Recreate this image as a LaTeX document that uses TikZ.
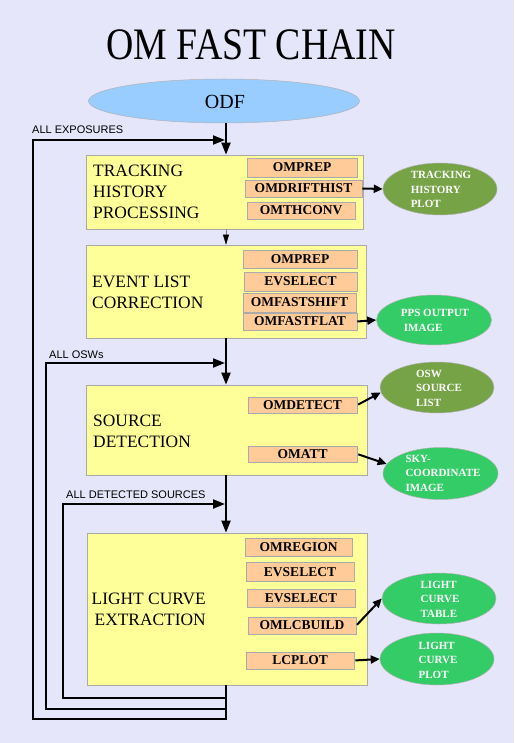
\documentclass[tikz,border=0pt]{standalone}
\usepackage{fontspec}
\usepackage{graphicx}
\setmainfont{Liberation Serif}
\newfontfamily\labelfont{Liberation Sans}
\usetikzlibrary{arrows.meta,shapes.geometric}
\definecolor{bgc}{HTML}{E6E6FA}
\definecolor{boxy}{HTML}{FFFF99}
\definecolor{boxo}{HTML}{FFCC99}
\definecolor{odfc}{HTML}{99CCFF}
\definecolor{prodolive}{HTML}{77A347}
\definecolor{prodgreen}{HTML}{33CC66}
\definecolor{edgec}{HTML}{AAAAAA}
\tikzset{
  stagebox/.style={draw=edgec,line width=0.7pt,fill=boxy,inner sep=0pt},
  stagetext/.style={inner sep=0pt,align=left,font=\fontsize{17.4}{21}\selectfont},
  taskbox/.style={draw=edgec,line width=0.6pt,fill=boxo,inner sep=0pt,font=\fontsize{13.5}{14}\selectfont\bfseries},
  prodell/.style={ellipse,draw=black!30,line width=0.5pt,inner sep=0pt},
  prodtext/.style={inner sep=0pt,text=white,align=left,font=\fontsize{11}{14.5}\selectfont\bfseries},
  flow/.style={line width=2pt,-{Triangle[length=12pt,width=9pt]}},
  outarr/.style={line width=2pt,-{Triangle[length=9pt,width=8pt]}},
  thinflow/.style={line width=0.4pt,draw=gray,-{Triangle[length=10pt,width=6pt,color=black]}},
  looplbl/.style={font=\labelfont\fontsize{11}{12}\selectfont,inner sep=0pt,anchor=base west}
}
\begin{document}
\begin{tikzpicture}[x=1pt,y=-1pt]
\fill[bgc] (0,0) rectangle (514,743);
\useasboundingbox (0,0) rectangle (514,743);

% title
\node[inner sep=0pt,font=\fontsize{45}{50}\selectfont] (title) at (251,45) {\scalebox{0.84}[1]{OM FAST CHAIN}};

% ODF
\node[ellipse,draw=black!30,line width=0.5pt,fill=odfc,minimum width=271pt,minimum height=44pt,inner sep=0pt] (ODF) at (224,101) {};
\node[inner sep=0pt,font=\fontsize{20}{22}\selectfont] (odft) at (225,102) {ODF};

% stage boxes
\node[stagebox,minimum width=277pt,minimum height=74pt] (T) at (224.5,192) {};
\node[stagebox,minimum width=280pt,minimum height=93pt] (E) at (226,291.5) {};
\node[stagebox,minimum width=281pt,minimum height=90pt] (S) at (226.5,430) {};
\node[stagebox,minimum width=280pt,minimum height=152pt] (L) at (227,609) {};

\node[stagetext,anchor=west] (Tt) at (93,192) {TRACKING\\HISTORY\\PROCESSING};
\node[stagetext,anchor=west] (Et) at (92,292.5) {EVENT LIST\\CORRECTION};
\node[stagetext,anchor=west] (St) at (93,431) {SOURCE\\DETECTION};
\node[stagetext,anchor=east,align=right] (Lt) at (206,609.5) {LIGHT CURVE\\EXTRACTION};

% task boxes
\node[taskbox,minimum width=110pt,minimum height=19pt] (T1) at (302,167.5) {OMPREP};
\node[taskbox,minimum width=117pt,minimum height=17pt] (T2) at (303.5,188.5) {OMDRIFTHIST};
\node[taskbox,minimum width=108pt,minimum height=17pt] (T3) at (301,210.5) {OMTHCONV};

\node[taskbox,minimum width=114pt,minimum height=18pt] (E1) at (300,259) {OMPREP};
\node[taskbox,minimum width=113pt,minimum height=19pt] (E2) at (300.5,281.5) {EVSELECT};
\node[taskbox,minimum width=113pt,minimum height=19pt] (E3) at (299.5,302.5) {OMFASTSHIFT};
\node[taskbox,minimum width=114pt,minimum height=17pt] (E4) at (300,321.5) {OMFASTFLAT};

\node[taskbox,minimum width=109pt,minimum height=16pt] (S1) at (302.5,405) {OMDETECT};
\node[taskbox,minimum width=109pt,minimum height=16pt] (S2) at (302.5,454) {OMATT};

\node[taskbox,minimum width=107pt,minimum height=18pt] (L1) at (298.5,547) {OMREGION};
\node[taskbox,minimum width=108pt,minimum height=19pt] (L2) at (300,572) {EVSELECT};
\node[taskbox,minimum width=108pt,minimum height=18pt] (L3) at (301,598) {EVSELECT};
\node[taskbox,minimum width=108pt,minimum height=17pt] (L4) at (302,625.5) {OMLCBUILD};
\node[taskbox,minimum width=108pt,minimum height=17pt] (L5) at (300,660.5) {LCPLOT};

% products
\node[prodell,fill=prodolive,minimum width=114pt,minimum height=52pt] (O1) at (440,189) {};
\node[prodtext] (O1t) at (441,189.5) {TRACKING\\HISTORY\\PLOT};
\node[prodell,fill=prodgreen,minimum width=115pt,minimum height=50pt] (O2) at (434,320) {};
\node[prodtext] (O2t) at (435,320.5) {PPS OUTPUT\\\hspace*{3pt}IMAGE};
\node[prodell,fill=prodolive,minimum width=114pt,minimum height=51pt] (O3) at (437,387.5) {};
\node[prodtext] (O3t) at (439,388) {OSW\\SOURCE\\LIST};
\node[prodell,fill=prodgreen,minimum width=115pt,minimum height=52pt] (O4) at (440.5,473.5) {};
\node[prodtext] (O4t) at (443,473) {SKY-\\COORDINATE\\IMAGE};
\node[prodell,fill=prodgreen,minimum width=114pt,minimum height=51pt] (O5) at (439,598.5) {};
\node[prodtext] (O5t) at (440,599) {LIGHT\\CURVE\\TABLE};
\node[prodell,fill=prodgreen,minimum width=114pt,minimum height=52pt] (O6) at (437,659) {};
\node[prodtext] (O6t) at (438,660) {LIGHT\\CURVE\\PLOT};

% trunk and loops
\coordinate (tx) at (226,0);
\coordinate (a1) at (33,140);
\coordinate (a2) at (46,363);
\coordinate (a3) at (63,504);
\coordinate (b1) at (33,719);
\coordinate (b2) at (46,709);
\coordinate (b3) at (63,698);

\draw[flow] (ODF.south -| tx) -- (T.north -| tx);
\draw[thinflow] (T.south -| tx) -- (E.north -| tx);
\draw[flow] (E.south -| tx) -- (S.north -| tx);
\draw[flow] (S.south -| tx) -- (L.north -| tx);

\draw[flow,shorten >=1pt] (L.south -| tx) -- (tx |- b1) -- (b1) -- (a1) -- (tx |- a1);
\draw[flow,shorten >=1pt] (tx |- b2) -- (b2) -- (a2) -- (tx |- a2);
\draw[flow,shorten >=1pt] (tx |- b3) -- (b3) -- (a3) -- (tx |- a3);

\node[looplbl] (l1) at (32,134) {ALL EXPOSURES};
\node[looplbl] (l2) at (49,358) {ALL OSWs};
\node[looplbl] (l3) at (66,498) {ALL DETECTED SOURCES};

% outputs
\draw[outarr] (T2.east) -- (O1.west);
\draw[outarr] (E4.east) -- (O2.west);
\draw[outarr,shorten <=1pt] (S1.east) -- (O3.185);
\draw[outarr,shorten <=1pt] (S2.east) -- (O4.170);
\draw[outarr,shorten <=1pt] (L4.east) -- (O5.west);
\draw[outarr,shorten <=1pt] (L5.east) -- (O6.west);
\end{tikzpicture}
\end{document}
